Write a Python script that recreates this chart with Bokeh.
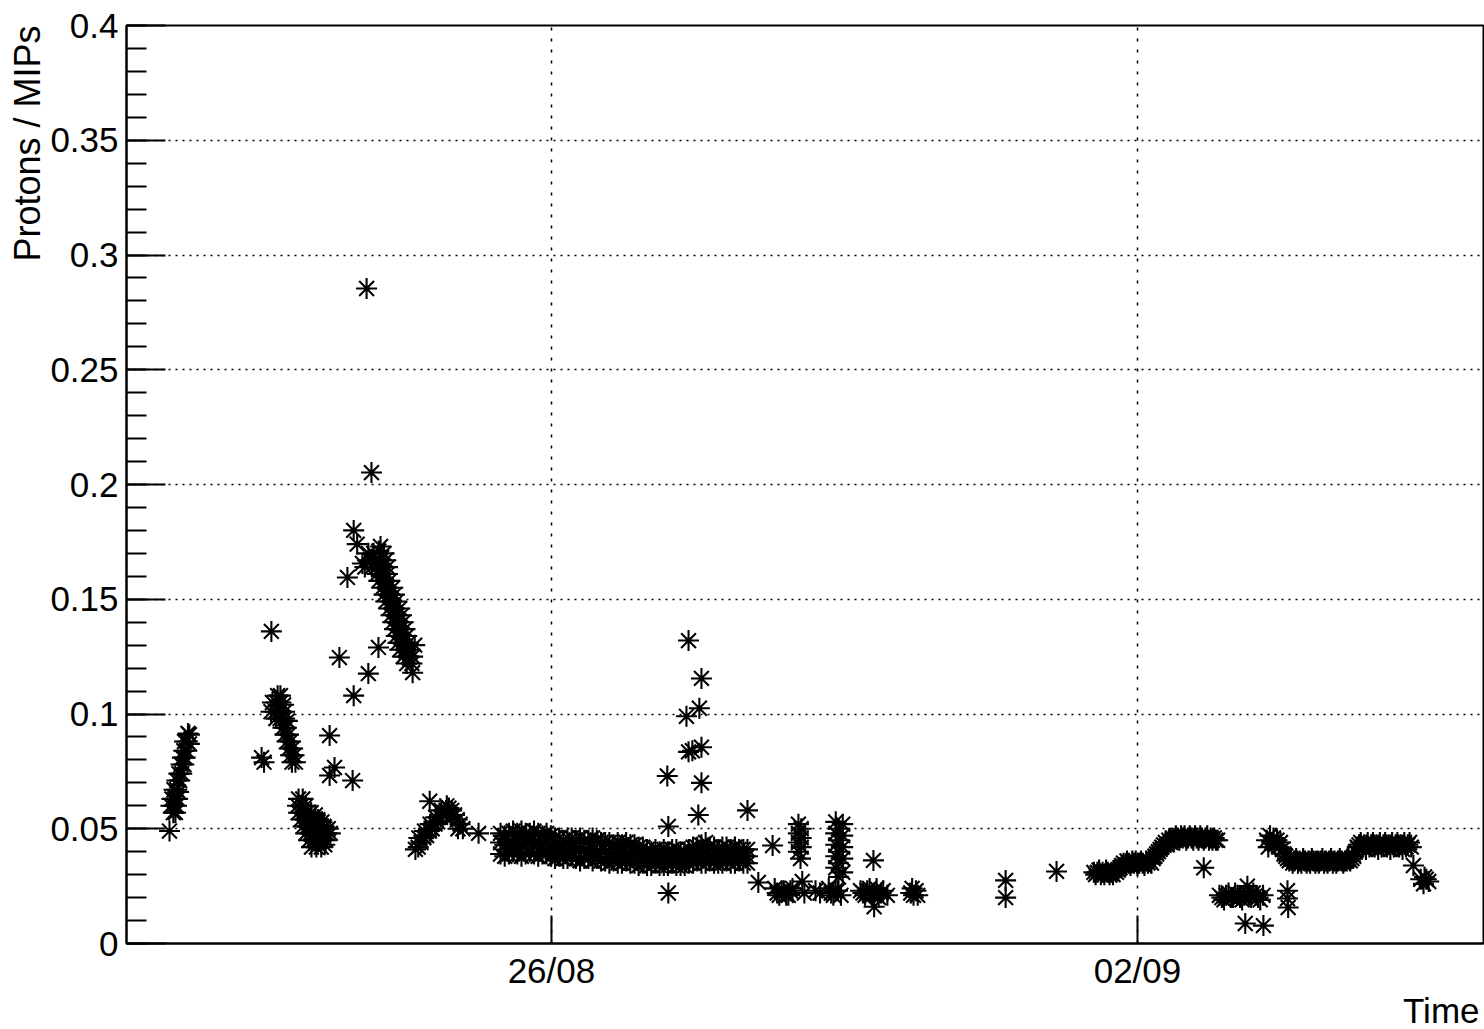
import pandas as pd
from bokeh.plotting import figure
from bokeh.models import (ColumnDataSource, Range1d, FixedTicker, SingleIntervalTicker,
                          DatetimeTickFormatter, CustomJSTickFormatter, Title)
from bokeh.embed import file_html
from bokeh.resources import INLINE

# ---------------- data: (hours since 21/08 00:00, Protons / MIPs) ----------------
T0 = pd.Timestamp("2015-08-21 00:00")
x_start_h = -1.83
x_end_h = 387.2
x_tick_dates = ["2015-08-26", "2015-09-02"]
y_label = "Protons / MIPs"
x_label = "Time"

seg_a = [(10.5,0.049),
         (15.8,0.0915),(16.2,0.091),(14.8,0.088),(15.6,0.088),(16.2,0.087),(14.6,0.084),(15.4,0.084),
         (14.2,0.081),(15.0,0.081),(13.8,0.078),(14.6,0.078),(13.2,0.074),(14.0,0.074),(12.6,0.071),
         (13.4,0.071),(11.8,0.067),(12.6,0.067),(13.1,0.066),(11.2,0.063),(12.0,0.063),(12.8,0.063),
         (10.9,0.060),(11.7,0.060),(12.5,0.060),(11.6,0.057),(12.2,0.057)]

seg_b = [(36.9,0.081),(37.6,0.079),(39.7,0.136),
         (41.5,0.108),(42.3,0.108),(40.0,0.105),(41.2,0.105),(42.4,0.105),(43.2,0.104),
         (39.6,0.101),(40.8,0.101),(42.0,0.101),(43.5,0.101),(41.0,0.098),(42.2,0.098),(43.5,0.098),
         (44.3,0.097),(43.0,0.094),(44.0,0.094),(43.6,0.091),(44.6,0.091),(44.2,0.088),(45.2,0.088),
         (44.8,0.085),(45.8,0.085),(45.2,0.082),(46.2,0.082),(45.6,0.079),(46.6,0.079)]

seg_c = [(47.5,0.063),(48.7,0.063),(47.2,0.060),(48.4,0.060),(49.6,0.060),
         (47.5,0.057),(48.7,0.057),(49.9,0.057),(51.1,0.057),(52.3,0.056),
         (48.2,0.054),(49.4,0.054),(50.6,0.054),(51.8,0.054),(53.0,0.054),(54.2,0.053),
         (48.8,0.051),(50.0,0.051),(51.2,0.051),(52.4,0.051),(53.6,0.051),(54.8,0.051),(56.0,0.050),
         (49.6,0.048),(50.8,0.048),(52.0,0.048),(53.2,0.048),(54.4,0.048),(55.6,0.048),(56.6,0.048),
         (50.5,0.045),(51.7,0.045),(52.9,0.045),(54.1,0.045),(55.3,0.045),
         (51.2,0.042),(52.6,0.042),(54.0,0.042),(55.0,0.043)]

seg_spikes1 = [(56.4,0.0906),(57.8,0.0767),(56.4,0.0732),(63.0,0.0710),(63.3,0.108),(59.2,0.1246),
               (67.5,0.1176),(70.4,0.129),(61.5,0.1595),(63.3,0.180),(64.3,0.174),(65.8,0.1656),
               (67.0,0.2854),(68.4,0.2052)]

seg_d = [(71.0,0.173),
         (67.5,0.170),(69.0,0.170),(70.5,0.171),(72.0,0.170),
         (68.0,0.167),(69.5,0.167),(71.0,0.167),(72.5,0.167),
         (66.5,0.164),(68.5,0.164),(70.0,0.164),(71.5,0.164),(73.0,0.164),
         (70.0,0.161),(71.5,0.161),(73.0,0.161),
         (70.5,0.158),(72.0,0.158),(73.5,0.158),
         (71.5,0.155),(73.0,0.155),(74.5,0.155),
         (72.0,0.152),(73.5,0.152),(75.0,0.152),
         (72.5,0.149),(74.0,0.149),(75.5,0.149),
         (73.5,0.146),(75.0,0.146),(76.5,0.146),
         (74.0,0.143),(75.5,0.143),(77.0,0.143),
         (74.5,0.140),(76.0,0.140),(77.5,0.140),
         (75.0,0.137),(76.5,0.137),(78.0,0.137),
         (75.5,0.134),(77.0,0.134),(78.5,0.134),
         (76.0,0.131),(77.5,0.131),(79.0,0.131),(80.8,0.130),
         (76.5,0.128),(78.0,0.128),(79.5,0.128),
         (77.5,0.125),(79.0,0.125),(80.2,0.125),
         (78.5,0.122),(80.0,0.122),(80.2,0.118)]

seg_e = [(81.0,0.041),(81.8,0.042),(82.6,0.044),(83.4,0.046),(84.2,0.047),(85.0,0.049),(85.8,0.050),
         (86.6,0.052),(87.4,0.053),(88.2,0.055),(89.0,0.056),(89.8,0.058),(90.6,0.059),(91.4,0.058),
         (92.2,0.056),(93.0,0.054),(93.8,0.052),(94.6,0.050),(82.0,0.046),(83.6,0.049),(85.2,0.052),
         (86.8,0.055),(88.4,0.058),(90.0,0.060),(91.6,0.055),(93.2,0.050),(85.1,0.062),(99.1,0.048)]

band_f_hours = [105.4,106.6,107.8,109.0,110.2,111.4,112.6,113.8,115.0,116.2,117.4,118.6,119.8,
                121.0,122.2,123.4,124.6,125.8,127.0,128.2,129.4,130.6,131.8,133.0,134.2,
                135.4,136.6,137.8,139.0,140.2,141.4,142.6,143.8,145.0,146.2,
                147.4,148.6,149.8,151.0,152.2,153.4,154.6,155.8,157.0,158.2,
                159.4,160.6,161.8,163.0,164.2,165.4,166.6,167.8,169.0,170.2,171.4,172.6,173.8,175.0,176.2]
band_f_upper = [0.048,0.047,0.048,0.049,0.048,0.049,0.048,0.048,0.049,0.048,0.047,0.048,0.047,
                0.046,0.046,0.045,0.046,0.046,0.045,0.046,0.045,0.045,0.046,0.045,0.044,
                0.044,0.044,0.043,0.044,0.043,0.044,0.043,0.043,0.042,0.042,
                0.041,0.040,0.041,0.040,0.041,0.040,0.041,0.041,0.040,0.040,
                0.041,0.042,0.042,0.043,0.044,0.042,0.042,0.041,0.042,0.042,0.041,0.042,0.041,0.041,0.041]
band_f_mid = [0.044,0.043,0.044,0.043,0.044,0.043,0.044,0.044,0.043,0.044,0.043,0.044,0.043,
              0.041,0.042,0.041,0.041,0.042,0.041,0.041,0.041,0.040,0.041,0.040,0.040,
              0.040,0.039,0.040,0.039,0.040,0.039,0.039,0.039,0.039,0.038,
              0.037,0.037,0.038,0.037,0.037,0.037,0.038,0.037,0.037,0.037,
              0.038,0.038,0.039,0.038,0.039,0.038,0.039,0.038,0.038,0.039,0.038,0.038,0.039,0.038,0.038]
band_f_lower = [0.039,0.038,0.039,0.040,0.039,0.038,0.039,0.040,0.039,0.038,0.039,0.039,0.038,
                0.037,0.038,0.037,0.037,0.038,0.037,0.036,0.037,0.037,0.036,0.037,0.036,
                0.036,0.035,0.036,0.035,0.035,0.036,0.035,0.035,0.034,0.035,
                0.034,0.034,0.035,0.034,0.034,0.034,0.035,0.034,0.034,0.034,
                0.035,0.035,0.036,0.035,0.035,0.036,0.035,0.035,0.035,0.036,0.035,0.035,0.036,0.035,0.035]

seg_spikes2 = [(153.5,0.022),(153.5,0.051),(153.2,0.073),(159.3,0.132),(163.0,0.1155),(162.4,0.1025),
               (158.7,0.099),(159.3,0.0835),(160.4,0.084),(163.0,0.0855),(163.0,0.070),(162.1,0.056),
               (176.2,0.058)]

seg_g = [(183.4,0.0427),(179.3,0.0266),(212.3,0.0362),(212.5,0.016),
         (190.8,0.052),(191.6,0.050),(190.8,0.048),(191.6,0.046),(190.8,0.044),(191.6,0.042),
         (190.8,0.040),(191.4,0.037),
         (201.5,0.053),(203.5,0.052),(202.3,0.050),(201.5,0.048),(203.5,0.047),(202.3,0.045),
         (201.5,0.043),(203.5,0.042),(202.3,0.040),(201.5,0.038),(203.5,0.037),(202.3,0.035),
         (201.5,0.033),(203.5,0.031),(202.3,0.029),
         (184.0,0.024),(184.7,0.022),(185.3,0.021),(186.0,0.023),(186.6,0.023),(187.3,0.021),
         (187.9,0.021),(188.5,0.023),(189.1,0.024),(191.9,0.027),(192.5,0.022),(195.7,0.023),
         (197.0,0.022),(199.5,0.024),(200.2,0.022),(200.8,0.021),(201.4,0.023),(202.0,0.023),
         (203.0,0.021),(208.6,0.023),(209.3,0.022),(209.9,0.021),(210.5,0.023),(211.2,0.024),
         (211.9,0.021),(212.5,0.022),(213.2,0.024),(213.8,0.020),(214.5,0.022),(215.1,0.023),
         (216.3,0.021),(223.0,0.022),(223.4,0.024),(223.8,0.021),(224.5,0.023),(225.0,0.021)]

seg_h = [(250.2,0.0275),(250.2,0.020),(264.8,0.0314)]

band_i_hours = [275.5,276.0,276.5,277.0,277.5,278.0,278.5,279.0,279.5,280.0,280.5,281.0,281.5,282.0,
                282.5,283.0,283.5,284.0,284.5,285.0,285.5,286.0,286.5,287.0,287.5,288.0,288.5,289.0,
                289.5,290.0,290.5,291.0,291.5,292.0,292.5,293.0,293.5,294.0,294.5,295.0,295.5,296.0,
                296.5,297.0,297.5,298.0,298.5,299.0,299.5,300.0,300.5,301.0,301.5,302.0,302.5,303.0,
                303.5,304.0,304.5,305.0,305.5,306.0,306.5,307.0,307.5,308.0,308.5,309.0,309.5,310.0,
                310.5,311.0]
band_i_vals = [0.031,0.030,0.031,0.032,0.030,0.031,0.030,0.032,0.031,0.030,0.031,0.030,0.032,0.031,
               0.032,0.033,0.034,0.035,0.034,0.036,0.035,0.034,0.036,0.035,0.036,0.034,0.035,0.036,
               0.035,0.034,0.036,0.035,0.036,0.035,0.037,0.038,0.039,0.040,0.041,0.042,0.043,0.044,
               0.043,0.045,0.044,0.046,0.045,0.047,0.046,0.045,0.047,0.046,0.047,0.045,0.046,0.047,
               0.046,0.045,0.047,0.046,0.045,0.047,0.046,0.045,0.046,0.047,0.045,0.046,0.045,0.046,
               0.045,0.045]
seg_i_extra = [(307.0,0.033)]

seg_j = [(311.5,0.021),(312.8,0.019),(314.1,0.022),(315.4,0.020),(316.7,0.021),(318.0,0.019),
         (319.3,0.022),(320.6,0.020),(321.9,0.021),(323.2,0.019),(324.0,0.021),(319.5,0.025),
         (312.2,0.020),(313.4,0.021),(314.8,0.020),(316.0,0.022),(317.4,0.020),(318.6,0.021),
         (320.0,0.021),(321.2,0.022),(322.6,0.020),
         (318.9,0.0087),(324.1,0.0078),(331.0,0.023),(331.0,0.0196),(331.2,0.0157),(367.1,0.034),
         (369.2,0.028),(370.0,0.026),(370.8,0.028),(371.5,0.027),(370.3,0.029)]

band_j_hours = [325.0,325.5,326.0,326.5,327.0,327.5,328.0,328.5,329.0,329.5,330.0,330.5,331.0,331.5,
                332.0,332.5,333.0,333.5,334.0,334.5,335.0,335.5,336.0,336.5,337.0,337.5,338.0,338.5,
                339.0,339.5,340.0,340.5,341.0,341.5,342.0,342.5,343.0,343.5,344.0,344.5,345.0,345.5,
                346.0,346.5,347.0,347.5,348.0,348.5,349.0,349.5,350.0,350.5,351.0,351.5,352.0,352.5,
                353.0,353.5,354.0,354.5,355.0,355.5,356.0,356.5,357.0,357.5,358.0,358.5,359.0,359.5,
                360.0,360.5,361.0,361.5,362.0,362.5,363.0,363.5,364.0,364.5,365.0,365.5,366.0,366.5]
band_j_vals = [0.045,0.042,0.047,0.044,0.046,0.043,0.045,0.042,0.044,0.041,0.039,0.038,0.037,0.036,
               0.037,0.035,0.036,0.037,0.035,0.036,0.035,0.037,0.036,0.035,0.036,0.035,0.037,0.036,
               0.035,0.036,0.035,0.036,0.037,0.035,0.036,0.035,0.036,0.037,0.035,0.036,0.035,0.036,
               0.037,0.036,0.035,0.036,0.036,0.037,0.036,0.037,0.038,0.040,0.042,0.043,0.044,0.042,
               0.043,0.041,0.044,0.042,0.043,0.044,0.042,0.043,0.041,0.044,0.042,0.043,0.044,0.042,
               0.043,0.041,0.044,0.042,0.043,0.044,0.042,0.043,0.041,0.044,0.042,0.043,0.044,0.042]

# ---------------- assemble ----------------
hours, vals = [], []
for seg in [seg_a, seg_b, seg_c, seg_spikes1, seg_d, seg_e, seg_spikes2, seg_g, seg_h,
            seg_i_extra, seg_j]:
    for h, v in seg:
        hours.append(h)
        vals.append(v)
for row in [band_f_upper, band_f_mid, band_f_lower]:
    hours += band_f_hours
    vals += row
hours += band_i_hours
vals += band_i_vals
hours += band_j_hours
vals += band_j_vals

src = ColumnDataSource(dict(t=T0 + pd.to_timedelta(hours, unit="h"), v=vals))

FONT = "Liberation Sans"

p = figure(width=1484, height=1029, x_axis_type="datetime",
           x_range=Range1d(T0 + pd.Timedelta(hours=x_start_h), T0 + pd.Timedelta(hours=x_end_h)),
           y_range=Range1d(0, 0.4),
           output_backend="svg", toolbar_location=None,
           min_border_left=126, min_border_right=1, min_border_top=25, min_border_bottom=86)

p.background_fill_color = "white"
p.border_fill_color = "white"
p.outline_line_color = "black"
p.outline_line_width = 2

p.scatter(x="t", y="v", source=src, marker="asterisk", size=21,
          line_color="black", line_width=2.1)

# y axis
p.yaxis.ticker = SingleIntervalTicker(interval=0.05, num_minor_ticks=5)
p.yaxis.formatter = CustomJSTickFormatter(code="return (Math.round(tick*100)/100).toString();")
p.yaxis.major_tick_in = 39
p.yaxis.major_tick_out = 0
p.yaxis.minor_tick_in = 20
p.yaxis.minor_tick_out = 0
p.yaxis.major_label_standoff = 8

# x axis
tick_ms = [pd.Timestamp(d).value // 10**6 for d in x_tick_dates]
p.xaxis.ticker = FixedTicker(ticks=tick_ms)
fmt = "%d/%m"
p.xaxis.formatter = DatetimeTickFormatter(days=fmt, months=fmt, hours=fmt, hourmin=fmt,
                                          minutes=fmt, years=fmt, seconds=fmt, minsec=fmt,
                                          milliseconds=fmt, microseconds=fmt)
p.xaxis.major_tick_in = 28
p.xaxis.major_tick_out = 0
p.xaxis.minor_tick_line_color = None
p.xaxis.major_label_standoff = 7

for ax in [p.xaxis, p.yaxis]:
    ax.axis_line_width = 2
    ax.major_tick_line_width = 2
    ax.minor_tick_line_width = 2
    ax.axis_line_color = "black"
    ax.major_tick_line_color = "black"
    ax.major_label_text_font = FONT
    ax.major_label_text_font_size = "35px"
    ax.major_label_text_color = "black"

p.ygrid.grid_line_color = "black"
p.ygrid.grid_line_dash = "2 5"
p.ygrid.grid_line_width = 1.5
p.xgrid.grid_line_color = "black"
p.xgrid.grid_line_dash = "3 8"
p.xgrid.grid_line_width = 1.5

p.add_layout(Title(text=y_label, align="right", text_font=FONT, text_font_size="36px",
                   text_font_style="normal", text_color="black", standoff=0), "left")
p.add_layout(Title(text=x_label, align="right", text_font=FONT, text_font_size="35px",
                   text_font_style="normal", text_color="black", standoff=-8, offset=4), "below")

open("out.html", "w").write(file_html(p, INLINE))
